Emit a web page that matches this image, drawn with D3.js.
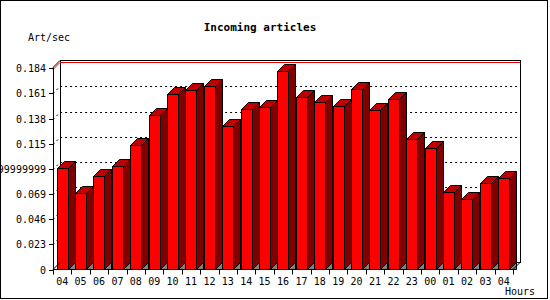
<!DOCTYPE html>
<html>
<head>
<meta charset="utf-8">
<script src="https://d3js.org/d3.v7.min.js"></script>
<style>
  body { margin: 0; background: #fff; }
  text { font-family: 'DejaVu Sans Mono', monospace; font-size: 10px; fill: #000; }
  .title { font-size: 11px; font-weight: bold; }
</style>
</head>
<body>
<script>
  // data
  const hours = ['04','05','06','07','08','09','10','11','12','13','14','15','16',
                 '17','18','19','20','21','22','23','00','01','02','03','04'];
  const artPerSec = [0.0924, 0.0696, 0.0851, 0.0951, 0.1143, 0.1417, 0.1603, 0.1646, 0.1682,
                     0.1308, 0.1472, 0.1490, 0.1819, 0.1582, 0.1536, 0.1499, 0.1655, 0.1463,
                     0.1563, 0.1189, 0.1107, 0.0705, 0.0641, 0.0787, 0.0833];
  const yTickValues = [0, 0.023, 0.046, 0.069, 0.092, 0.115, 0.138, 0.161, 0.184];
  const yTickLabels = ['0', '0.023', '0.046', '0.069', '0.09199999999', '0.115', '0.138', '0.161', '0.184'];

  const width = 550, height = 300;
  const depth = 7;
  const plotLeft = 53, plotRight = 513, plotBottom = 269.5, plotTop = 68.3;

  const svg = d3.select('body').append('svg')
      .attr('width', width)
      .attr('height', height);

  // outer frame
  svg.append('rect')
      .attr('x', 0.5).attr('y', 0.5)
      .attr('width', 547).attr('height', 298)
      .attr('fill', '#fff').attr('stroke', '#000');

  const x = d3.scaleBand()
      .domain(d3.range(hours.length))
      .range([plotLeft, plotRight])
      .paddingInner(0.4)
      .paddingOuter(0.2);

  const y = d3.scaleLinear()
      .domain([0, 0.184])
      .range([plotBottom, plotTop]);

  const yMax = Math.round(y(0.184)) + 0.5;

  // back wall
  svg.append('rect')
      .attr('x', plotLeft + depth + 0.5)
      .attr('y', yMax - depth - 1)
      .attr('width', plotRight - plotLeft)
      .attr('height', plotBottom - yMax + 1)
      .attr('fill', '#fff')
      .attr('stroke', '#000');

  // grid lines (front axis -> back wall)
  const grid = svg.append('g');
  yTickValues.slice(1, -1).forEach(v => {
    const yy = Math.round(y(v)) + 0.5;
    grid.append('path')
        .attr('d', `M${plotLeft},${yy} L${plotLeft + depth},${yy - depth} L${plotRight + depth},${yy - depth}`)
        .attr('fill', 'none')
        .attr('stroke', '#000')
        .attr('stroke-dasharray', '2,3');
  });
  grid.append('path')
      .attr('d', `M${plotLeft},${yMax + 1} L${plotLeft + depth},${yMax - depth + 1} L${plotRight + depth},${yMax - depth + 1}`)
      .attr('fill', 'none')
      .attr('stroke', '#e00000');
  grid.append('path')
      .attr('d', `M${plotLeft},${yMax - 1} L${plotLeft + depth},${yMax - depth - 1}`)
      .attr('fill', 'none')
      .attr('stroke', '#000');

  // bars
  const bars = svg.append('g').attr('stroke', '#000').attr('stroke-linejoin', 'miter');
  artPerSec.forEach((v, i) => {
    const bx = Math.round(x(i)) + 0.5;
    const bw = Math.round(x.bandwidth());
    const by = Math.round(y(v)) + 0.5;
    const b0 = plotBottom;
    const g = bars.append('g');
    g.append('path')
        .attr('d', `M${bx + bw},${b0} L${bx + bw + depth},${b0 - depth} L${bx + bw + depth},${b0} Z`)
        .attr('fill', '#808080');
    g.append('path')
        .attr('d', `M${bx + bw},${by} L${bx + bw + depth},${by - depth} L${bx + bw + depth},${b0 - depth} L${bx + bw},${b0} Z`)
        .attr('fill', '#800000');
    g.append('path')
        .attr('d', `M${bx},${by} L${bx + depth},${by - depth} L${bx + bw + depth},${by - depth} L${bx + bw},${by} Z`)
        .attr('fill', '#c00000');
    g.append('rect')
        .attr('x', bx).attr('y', by)
        .attr('width', bw).attr('height', b0 - by)
        .attr('fill', '#ff0000');
  });

  // axes
  const axes = svg.append('g').attr('stroke', '#000').attr('fill', 'none');
  axes.append('path')
      .attr('d', `M${plotLeft + 0.5},${plotBottom} L${plotLeft + 0.5},${yMax - 1}`);
  axes.append('path')
      .attr('d', `M${plotLeft},${plotBottom} L${plotRight},${plotBottom} L${plotRight + depth},${plotBottom - depth}`);
  axes.append('path')
      .attr('d', `M${plotLeft},${plotBottom} L${plotLeft + depth},${plotBottom - depth}`);

  yTickValues.forEach(v => {
    const yy = Math.round(y(v)) + 0.5;
    axes.append('line')
        .attr('x1', plotLeft - 4).attr('x2', plotLeft)
        .attr('y1', yy).attr('y2', yy);
  });

  svg.append('g').selectAll('text')
    .data(yTickValues)
    .join('text')
      .attr('x', plotLeft - 7)
      .attr('y', v => Math.round(y(v)) + 4)
      .attr('text-anchor', 'end')
      .text((v, i) => yTickLabels[i]);

  const step = x.step();
  d3.range(hours.length + 1).forEach(i => {
    const tx = Math.round(plotLeft + i * step) + 0.5;
    axes.append('line')
        .attr('x1', tx).attr('x2', tx)
        .attr('y1', plotBottom).attr('y2', plotBottom + 5);
  });

  svg.append('g').selectAll('text')
    .data(hours)
    .join('text')
      .attr('x', (h, i) => x(i) + x.bandwidth() / 2)
      .attr('y', 284.5)
      .attr('text-anchor', 'middle')
      .text(h => h);

  svg.append('text')
      .attr('class', 'title')
      .attr('x', 260)
      .attr('y', 30.5)
      .attr('text-anchor', 'middle')
      .text('Incoming articles');

  svg.append('text')
      .attr('x', 28)
      .attr('y', 41)
      .text('Art/sec');

  svg.append('text')
      .attr('x', 535)
      .attr('y', 295)
      .attr('text-anchor', 'end')
      .text('Hours');
</script>
</body>
</html>
